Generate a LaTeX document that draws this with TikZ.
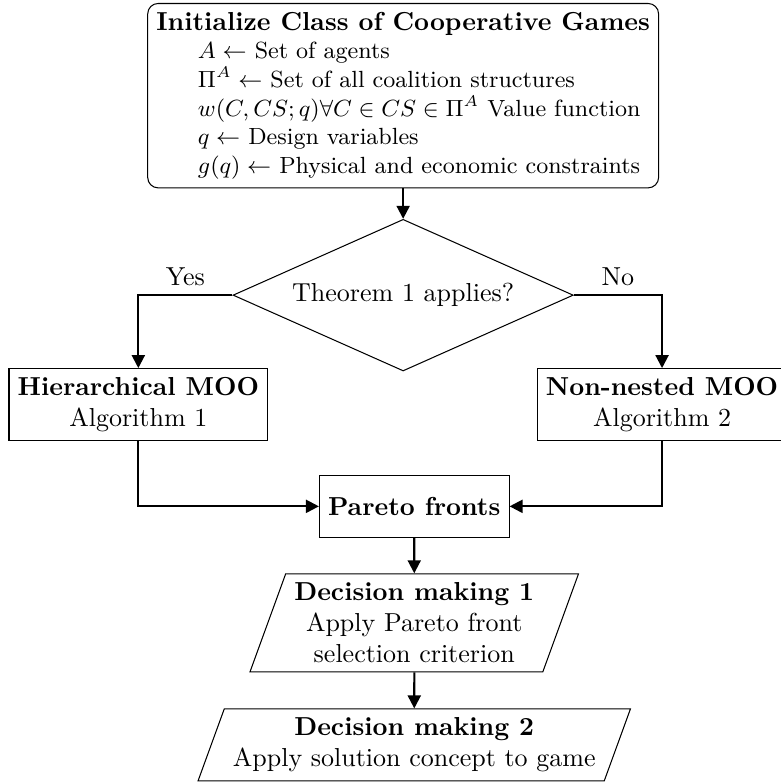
\documentclass[tikz,border=0pt]{standalone}
\usepackage{amsmath}
\usepackage{amssymb}
\usepackage{tikz}
\usetikzlibrary{shapes.geometric, arrows.meta, positioning}

\begin{document}
\begin{tikzpicture}[
    init/.style={rectangle, draw, rounded corners=4pt, align=left, font=\small},
    decision/.style={diamond, draw, aspect=2.24, minimum width=4.6cm, minimum height=2.05cm, inner sep=1pt, text centered},
    process/.style={rectangle, draw, minimum height=0.83cm, text centered, align=center},
    io/.style={trapezium, trapezium left angle=70, trapezium right angle=110, draw, text centered, align=center},
    arrow/.style={-{Triangle[length=5pt, width=5pt]}, thick}
]
\useasboundingbox (0,0) rectangle (10.555,-10.585);

% Game setup
\node[init, anchor=north] (init) at (5.45,-0.04) {{\normalsize\bfseries Initialize Class of Cooperative Games}\\
    \hspace*{16pt}$A \leftarrow$ Set of agents\\
    \hspace*{16pt}$\Pi^A \leftarrow$ Set of all coalition structures\\
    \hspace*{16pt}$w(C,CS;q) \forall C \in CS \in \Pi^A$ Value function\\
    \hspace*{16pt}$q \leftarrow$ Design variables\\
    \hspace*{16pt}$g(q) \leftarrow$ Physical and economic constraints};

% Theorem check
\node[decision] (thm) at (5.45,-3.99) {Theorem 1 applies?};

% MOO approaches
\node[process] (hier) at (1.87,-5.47) {\textbf{Hierarchical MOO}\\ Algorithm 1};
\node[process] (nonnest) at (8.95,-5.47) {\textbf{Non-nested MOO}\\ Algorithm 2};

% Pareto fronts and decision making
\node[process] (pareto) at (5.6,-6.845) {\textbf{Pareto fronts}};
\node[io] (dm1) at (5.6,-8.42) {\textbf{Decision making 1}\\ Apply Pareto front\\ selection criterion};
\node[io] (dm2) at (5.6,-10.07) {\textbf{Decision making 2}\\ Apply solution concept to game};

% Arrows
\draw[arrow] (init) -- (thm);
\draw[arrow] (thm.west) -| node[pos=0.25, above] {Yes} (hier.north);
\draw[arrow] (thm.east) -| node[pos=0.25, above] {No} (nonnest.north);
\draw[arrow] (hier.south) |- (pareto.west);
\draw[arrow] (nonnest.south) |- (pareto.east);
\draw[arrow] (pareto) -- (dm1);
\draw[arrow] (dm1) -- (dm2);

\end{tikzpicture}
\end{document}
